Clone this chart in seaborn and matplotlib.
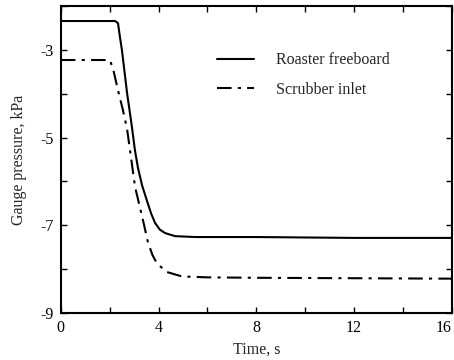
import pandas as pd
import matplotlib.pyplot as plt
import seaborn as sns

# Données
t_roaster = [0, 1, 2.0, 2.22, 2.34, 2.42, 2.5, 2.71, 2.91, 3.03, 3.16, 3.33, 3.53, 3.7, 3.86, 4.05, 4.27, 4.68, 5.5, 8, 12, 16]
p_roaster = [-2.34, -2.34, -2.34, -2.34, -2.39, -2.71, -3.0, -3.98, -4.76, -5.28, -5.7, -6.1, -6.45, -6.74, -6.95, -7.1, -7.18, -7.25, -7.27, -7.27, -7.29, -7.29]

t_scrubber = [0, 1, 2.0, 2.13, 2.34, 2.54, 2.71, 3.04, 3.36, 3.57, 3.75, 3.94, 4.35, 4.96, 6, 8, 12, 16]
p_scrubber = [-3.23, -3.23, -3.23, -3.41, -3.92, -4.37, -4.8, -6.13, -6.88, -7.4, -7.68, -7.88, -8.07, -8.17, -8.19, -8.2, -8.21, -8.22]

sns.set_style("ticks")
plt.rcParams['font.family'] = ['Liberation Serif', 'DejaVu Serif']
plt.rcParams['font.size'] = 11.5

fig = plt.figure(figsize=(4.54, 3.6), dpi=100)
ax = fig.add_axes([0.134, 0.131, 0.861, 0.852])

sns.lineplot(x=t_roaster, y=p_roaster, ax=ax, color='black', lw=1.5,
             label='Roaster freeboard')
sns.lineplot(x=t_scrubber, y=p_scrubber, ax=ax, color='black', lw=1.5,
             linestyle=(0, (7, 3, 1.5, 3)), label='Scrubber inlet')

ax.set_xlim(0, 16)
ax.set_ylim(-9, -2)
ax.set_xticks(range(0, 17, 2))
ax.set_xticklabels([str(v) if v % 4 == 0 else '' for v in range(0, 17, 2)])
ax.set_yticks(range(-9, -1))
ax.set_yticklabels([str(v) if v % 2 != 0 else '' for v in range(-9, -1)])
ax.tick_params(direction='in', top=True, right=True, length=4, width=1,
               colors='black', labelsize=11.5, pad=5)
ax.get_xticklabels()[-1].set_horizontalalignment('right')
for s in ax.spines.values():
    s.set_linewidth(1.5)
    s.set_color('black')

ax.set_xlabel("Time, s", fontsize=11.5, labelpad=4)
ax.set_ylabel("Gauge pressure, kPa", fontsize=11.5, labelpad=10)

ax.legend(loc='upper left', bbox_to_anchor=(0.40, 0.85), frameon=False,
          borderpad=0, borderaxespad=0,
          handlelength=2.3, handletextpad=1.4, labelspacing=0.85, fontsize=11.5)

fig.savefig("out.png", dpi=100)
